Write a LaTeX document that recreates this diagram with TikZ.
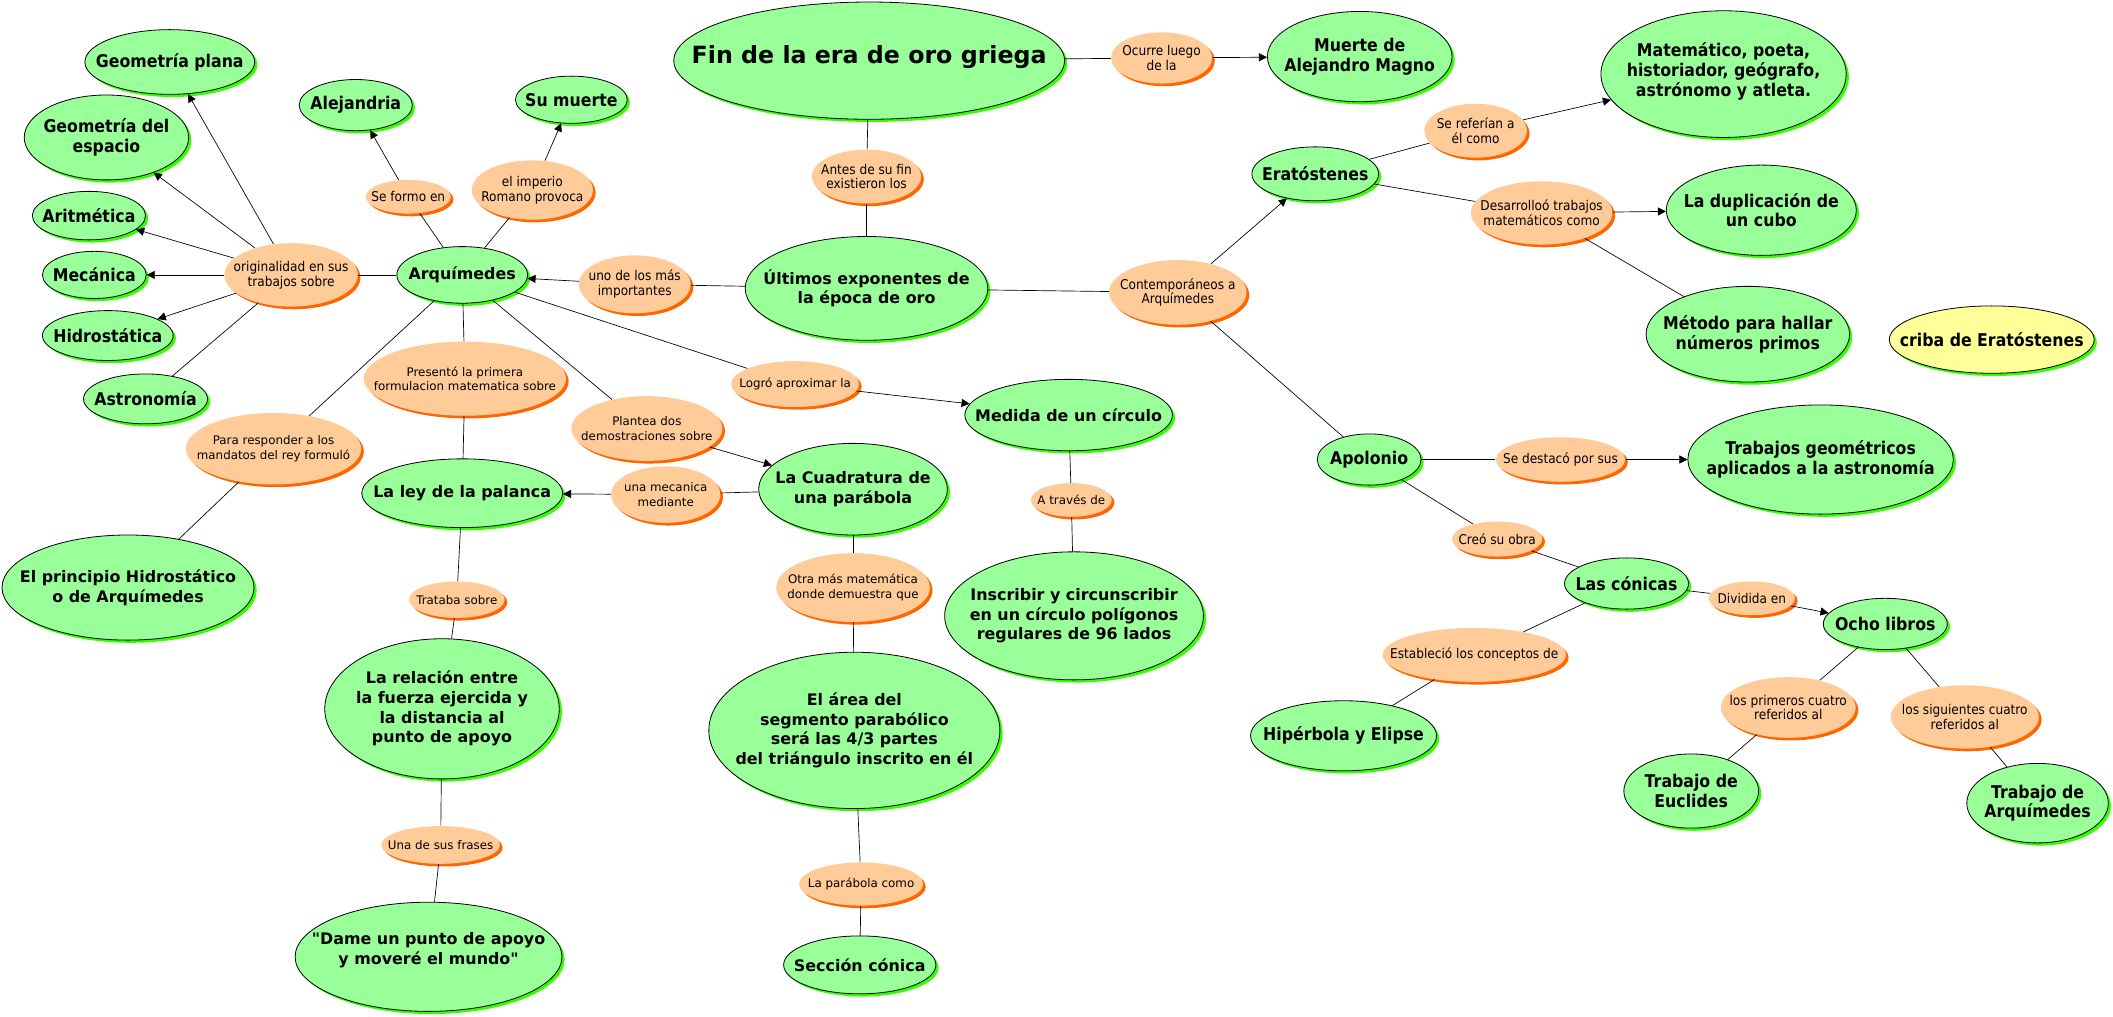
\documentclass[tikz,border=0pt]{standalone}
\usepackage{fontspec}
\setmainfont{DejaVu Sans}
\newfontfamily\tahfont{DejaVu Sans}[FakeStretch=0.9]
\newfontfamily\quotefont{DejaVu Sans}
\usetikzlibrary{shapes.geometric,shadows,arrows.meta}

\definecolor{cgreen}{HTML}{99FF99}
\definecolor{cgreenshade}{HTML}{33FF00}
\definecolor{corange}{HTML}{FFCC99}
\definecolor{corangeshade}{HTML}{FF6600}
\definecolor{cyellow}{HTML}{FFFF99}

\tikzset{
  oval/.style 2 args={ellipse, inner sep=0pt, minimum width=#1pt, minimum height=#2pt},
  cpt/.style 2 args={oval={#1}{#2}, draw=black, line width=0.6pt, fill=cgreen,
    drop shadow={shadow xshift=2pt, shadow yshift=-2pt, fill=cgreenshade, opacity=1}},
  cptyel/.style 2 args={cpt={#1}{#2}, fill=cyellow},
  lnk/.style 2 args={oval={#1}{#2}, fill=corange,
    drop shadow={shadow xshift=2pt, shadow yshift=-2pt, fill=corangeshade, opacity=1}},
  vb/.style={font=\bfseries\fontsize{11.8}{14.6}\selectfont, align=center, inner sep=0pt},
  tb/.style={font=\tahfont\bfseries\fontsize{13}{14.5}\selectfont, align=center, inner sep=0pt},
  vr/.style={font=\fontsize{8.8}{10.8}\selectfont, align=center, inner sep=0pt},
  tr/.style={font=\tahfont\fontsize{10}{11}\selectfont, align=center, inner sep=0pt},
  arr/.style={-{Triangle[length=6pt,width=6pt]}},
}

\begin{document}
\begin{tikzpicture}[x=1pt, y=-1pt, line width=0.5pt]
  \fill[white] (0,0) rectangle (1568,754);
  \useasboundingbox (0,0) rectangle (1568,754);

  % Arquimedes and his works
  \node[cpt={126}{48}, label={[tb]center:Geometría plana}] (gplana) at (126,46) {};
  \node[cpt={122}{63}, label={[tb]center:Geometría del\\espacio}] (gespacio) at (79,102) {};
  \node[cpt={84}{36}, label={[tb]center:Aritmética}] (aritm) at (66,160) {};
  \node[cpt={77}{35}, label={[tb]center:Mecánica}] (mecan) at (70,204) {};
  \node[cpt={97}{37}, label={[tb]center:Hidrostática}] (hidro) at (80,249) {};
  \node[cpt={92}{37}, label={[tb]center:Astronomía}] (astro) at (108,296) {};
  \node[lnk={99}{47}, label={[tr]center:originalidad en sus\\trabajos sobre}] (orig) at (216,204) {};
  \node[cpt={97}{42}, label={[vb]center:Arquímedes}] (arq) at (343,204) {};
  \node[cpt={84}{38}, label={[tb]center:Alejandria}] (alej) at (264,78) {};
  \node[cpt={83}{35}, label={[tb]center:Su muerte}] (muerte) at (424,74) {};
  \node[lnk={63}{25}, label={[tr]center:Se formo en}] (formo) at (303,146) {};
  \node[lnk={90}{44}, label={[tr]center:el imperio\\Romano provoca}] (imperio) at (395,141) {};
  \node[lnk={83}{43}, label={[tr]center:uno de los más\\importantes}] (unode) at (471,211) {};

  % top of the map
  \node[cpt={290}{87}, label={[vb, font=\bfseries\fontsize{17.6}{20}\selectfont, yshift=3pt]center:Fin de la era de oro griega}] (fin) at (645,45) {};
  \node[lnk={75}{38}, label={[tr]center:Ocurre luego\\de la}] (ocurre) at (862,43) {};
  \node[cpt={137}{67}, label={[tb]center:Muerte de\\Alejandro Magno}] (alejandro) at (1009,42) {};
  \node[lnk={81}{40}, label={[tr]center:Antes de su fin\\existieron los}] (antes) at (643,131) {};
  \node[cpt={180}{77}, label={[vb]center:Últimos exponentes de\\la época de oro}] (ultimos) at (643,214) {};
  \node[lnk={102}{48}, label={[tr]center:Contemporáneos a\\Arquímedes}] (contemp) at (874,217) {};

  % Eratostenes
  \node[cpt={182}{94}, label={[tb, yshift=2pt]center:{Matemático, poeta,\\historiador, geógrafo,\\astrónomo y atleta.}}] (matem) at (1279,55) {};
  \node[lnk={76}{40}, label={[tr]center:Se referían a\\él como}] (referian) at (1095,97) {};
  \node[cpt={94}{40}, label={[tb]center:Eratóstenes}] (erat) at (976,129) {};
  \node[lnk={105}{47}, label={[tr]center:Desarrolloó trabajos\\matemáticos como}] (desarr) at (1144,158) {};
  \node[cpt={141}{67}, label={[tb]center:La duplicación de\\un cubo}] (dupl) at (1307,156) {};
  \node[cpt={151}{71}, label={[tb]center:Método para hallar\\números primos}] (metodo) at (1297,248) {};
  \node[cptyel={152}{50}, label={[tb]center:criba de Eratóstenes}] (criba) at (1478,252) {};

  % works of Arquimedes
  \node[lnk={150}{55}, label={[vr]center:Presentó la primera\\formulacion matematica sobre}] (present) at (345,281) {};
  \node[lnk={112}{48}, label={[vr]center:Plantea dos\\demostraciones sobre}] (plantea) at (480,318) {};
  \node[lnk={95}{34}, label={[vr]center:Logró aproximar la}] (logro) at (590,285) {};
  \node[cpt={154}{53}, label={[vb]center:Medida de un círculo}] (medida) at (793,308) {};
  \node[lnk={130}{53}, label={[vr]center:Para responder a los\\mandatos del rey formuló}] (responder) at (203,333) {};
  \node[cpt={149}{51}, label={[vb]center:La ley de la palanca}] (palanca) at (343,366) {};
  \node[lnk={81}{42}, label={[vr]center:una mecanica\\mediante}] (mecanica) at (494,367) {};
  \node[cpt={140}{68}, label={[vb]center:La Cuadratura de\\una parábola}] (cuadr) at (633,363) {};
  \node[lnk={60}{25}, label={[vr]center:A través de}] (traves) at (795,371) {};
  \node[cpt={187}{78}, label={[vb]center:El principio Hidrostático\\o de Arquímedes}] (principio) at (95,436) {};
  \node[lnk={71}{27}, label={[vr]center:Trataba sobre}] (trataba) at (339,445) {};
  \node[lnk={114}{51}, label={[vr]center:Otra más matemática\\donde demuestra que}] (otra) at (633,436) {};
  \node[cpt={192}{95}, label={[vb]center:Inscribir y circunscribir\\en un círculo polígonos\\regulares de 96 lados}] (inscribir) at (797,457) {};
  \node[cpt={174}{104}, label={[vb]center:La relación entre\\la fuerza ejercida y\\la distancia al\\punto de apoyo}] (relacion) at (328,526) {};
  \node[cpt={216}{116}, label={[vb]center:El área del\\segmento parabólico\\será las 4/3 partes\\del triángulo inscrito en él}] (area) at (634,542) {};
  \node[lnk={88}{28}, label={[vr]center:Una de sus frases}] (frases) at (327,627) {};
  \node[lnk={92}{32}, label={[vr]center:La parábola como}] (parabola) at (639,656) {};
  \node[cpt={198}{81}, label={[vb, font=\quotefont\bfseries\fontsize{11.8}{14.6}\selectfont, yshift=5pt]center:"Dame un punto de apoyo\\y moveré el mundo"}] (dame) at (318,710) {};
  \node[cpt={113}{43}, label={[vb]center:Sección cónica}] (seccion) at (638,716) {};

  % Apolonio
  \node[cpt={77}{38}, label={[tb]center:Apolonio}] (apol) at (1016,341) {};
  \node[lnk={96}{33}, label={[tr]center:Se destacó por sus}] (destaco) at (1158,341) {};
  \node[cpt={197}{81}, label={[tb]center:Trabajos geométricos\\aplicados a la astronomía}] (trabgeo) at (1351,341) {};
  \node[lnk={67}{26}, label={[tr]center:Creó su obra}] (creo) at (1111,400) {};
  \node[cpt={92}{38}, label={[tb]center:Las cónicas}] (conicas) at (1207,433) {};
  \node[lnk={64}{25}, label={[tr]center:Dividida en}] (dividida) at (1300,444) {};
  \node[cpt={92}{38}, label={[tb]center:Ocho libros}] (ocho) at (1399,463) {};
  \node[lnk={136}{40}, label={[tr]center:Estableció los conceptos de}] (establecio) at (1094,486) {};
  \node[cpt={138}{52}, label={[tb]center:Hipérbola y Elipse}] (hiperbola) at (997,546) {};
  \node[lnk={100}{45}, label={[tr]center:los primeros cuatro\\referidos al}] (primeros) at (1327,525) {};
  \node[lnk={110}{47}, label={[tr]center:los siguientes cuatro\\referidos al}] (siguientes) at (1458,532) {};
  \node[cpt={100}{55}, label={[tb]center:Trabajo de\\Euclides}] (euclides) at (1255,587) {};
  \node[cpt={105}{59}, label={[tb]center:Trabajo de\\Arquímedes}] (trabarq) at (1512,596) {};

  % connectors
  \draw[arr] (orig) -- (gplana);
  \draw[arr] (orig) -- (gespacio);
  \draw[arr] (orig) -- (aritm);
  \draw[arr] (orig) -- (mecan);
  \draw[arr] (orig) -- (hidro);
  \draw (orig) -- (astro);
  \draw (arq) -- (orig);
  \draw (arq) -- (formo);
  \draw[arr] (formo) -- (alej);
  \draw (arq) -- (imperio);
  \draw[arr] (imperio) -- (muerte);
  \draw (ultimos) -- (unode);
  \draw[arr] (unode) -- (arq);
  \draw (fin) -- (antes);
  \draw (antes) -- (ultimos);
  \draw (fin) -- (ocurre);
  \draw[arr] (ocurre) -- (alejandro);
  \draw (ultimos) -- (contemp);
  \draw[arr] (contemp) -- (erat);
  \draw (contemp) -- (apol);
  \draw (erat) -- (referian);
  \draw[arr] (referian) -- (matem);
  \draw (erat) -- (desarr);
  \draw[arr] (desarr) -- (dupl);
  \draw (desarr) -- (metodo);
  \draw (arq) -- (present);
  \draw (present) -- (palanca);
  \draw (arq) -- (responder);
  \draw (responder) -- (principio);
  \draw (arq) -- (plantea);
  \draw[arr] (plantea) -- (cuadr);
  \draw (arq) -- (logro);
  \draw[arr] (logro) -- (medida);
  \draw (cuadr) -- (mecanica);
  \draw[arr] (mecanica) -- (palanca);
  \draw (palanca) -- (trataba);
  \draw (trataba) -- (relacion);
  \draw (relacion) -- (frases);
  \draw (frases) -- (dame);
  \draw (cuadr) -- (otra);
  \draw (otra) -- (area);
  \draw (area) -- (parabola);
  \draw (parabola) -- (seccion);
  \draw (medida) -- (traves);
  \draw (traves) -- (inscribir);
  \draw (apol) -- (destaco);
  \draw[arr] (destaco) -- (trabgeo);
  \draw (apol) -- (creo);
  \draw (creo) -- (conicas);
  \draw (conicas) -- (dividida);
  \draw[arr] (dividida) -- (ocho);
  \draw (conicas) -- (establecio);
  \draw (establecio) -- (hiperbola);
  \draw (ocho) -- (primeros);
  \draw (primeros) -- (euclides);
  \draw (ocho) -- (siguientes);
  \draw (siguientes) -- (trabarq);
\end{tikzpicture}
\end{document}
